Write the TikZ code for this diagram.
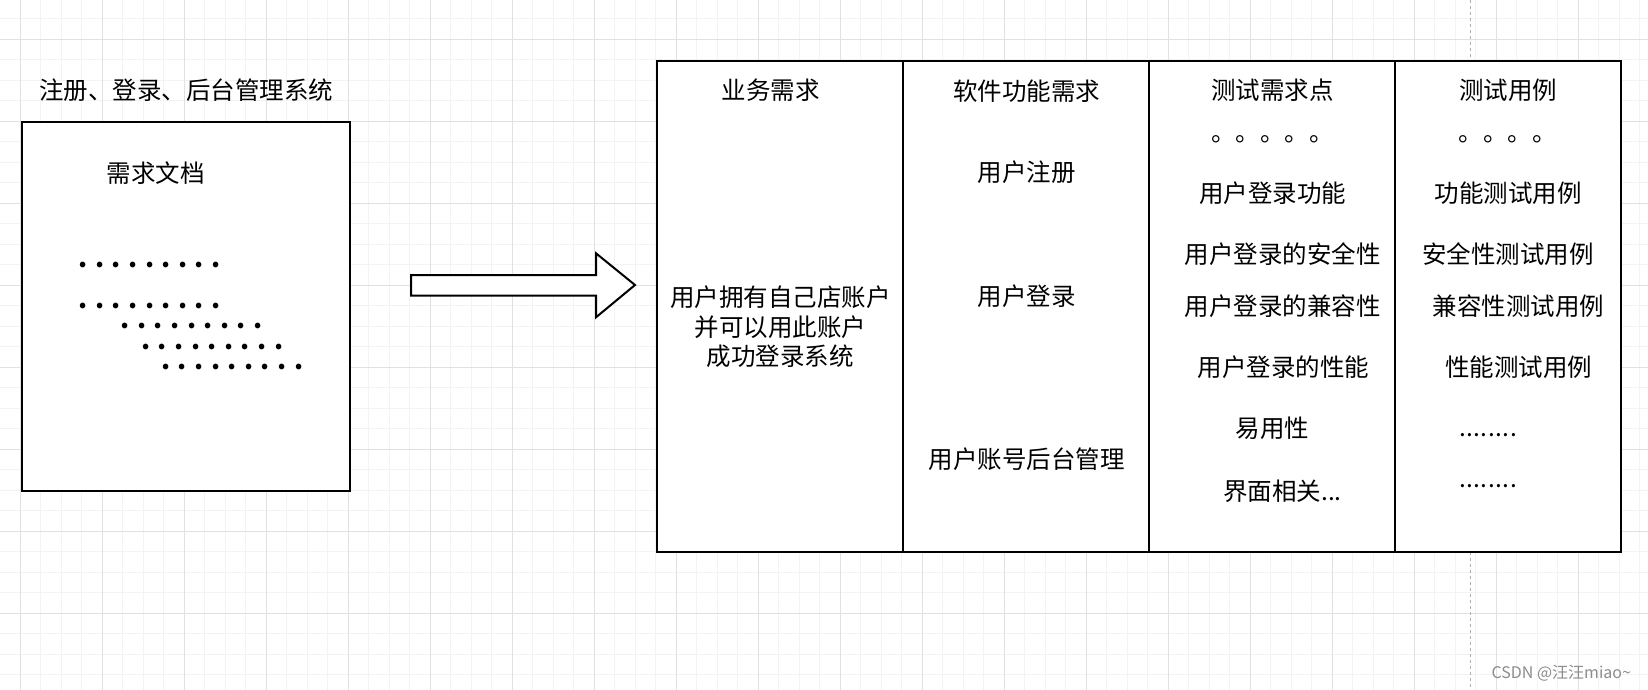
\documentclass[tikz,border=0pt]{standalone}
\usepackage{fontspec}
\newfontfamily\cjk{Noto Sans CJK SC}
\definecolor{minorgrid}{RGB}{243,243,243}
\definecolor{majorgrid}{RGB}{225,225,225}
\definecolor{pagebreak}{RGB}{175,175,175}
\definecolor{wmark}{RGB}{140,140,140}
\newcommand\dcell[1]{\makebox[#1pt]{.}}
\newcommand\ninedots{\dcell{16.6}\dcell{16.6}\dcell{16.6}\dcell{16.6}\dcell{16.6}\dcell{16.6}\dcell{16.6}\dcell{16.6}\dcell{16.6}}
\newcommand\eightdots{\dcell{7.3}\dcell{7.3}\dcell{7.3}\dcell{7.3}\dcell{7.3}\dcell{7.3}\dcell{7.3}\dcell{7.3}}
\begin{document}
\begin{tikzpicture}[x=1pt,y=-1pt,
  txt/.style={font=\cjk\fontsize{24.5}{29.2}\selectfont, inner sep=0pt, align=center, text=black},
  frame/.style={draw=black, line width=2pt, fill=white, inner sep=0pt, line join=miter},
  dotrow/.style={font=\cjk\fontsize{24.5}{29.2}\selectfont, inner sep=0pt, anchor=west, text=black},
  bolddots/.style={dotrow, font=\cjk\fontsize{26}{29.2}\selectfont\bfseries},
  minorline/.style={draw=minorgrid, line width=1pt},
  majorline/.style={draw=majorgrid, line width=1pt},
  pageline/.style={draw=pagebreak, line width=1pt, dash pattern=on 3pt off 3pt},
  wm/.style={font=\cjk\fontsize{16}{18}\selectfont, text=wmark, inner sep=0pt}]
\useasboundingbox (0,0) rectangle (1648,690);
\fill[white] (0,0) rectangle (1648,690);
% grid
\foreach \k in {0,...,80} {\pgfmathsetmacro\xx{-0.2+20.5*\k}\draw[minorline] (\xx,0) -- (\xx,690);}
\foreach \k in {0,...,33} {\pgfmathsetmacro\yy{-1.7+20.5*\k}\draw[minorline] (0,\yy) -- (1648,\yy);}
\foreach \k in {0,...,19} {\pgfmathsetmacro\xx{20.3+82*\k}\draw[majorline] (\xx,0) -- (\xx,690);}
\foreach \k in {0,...,7} {\pgfmathsetmacro\yy{39.3+82*\k}\draw[majorline] (0,\yy) -- (1648,\yy);}
\draw[pageline] (1470.3,0) -- (1470.3,690);

% left document box
\node[txt] (sys) at (186,90.7) {注册、登录、后台管理系统};
\node[frame, anchor=north west, minimum width=328.3, minimum height=369] (doc) at (20.7,121) {};
\node[txt] (doctitle) at (155.5,172.7) {需求文档};
\node[bolddots] (r1) at (74.7,264.7) {\ninedots};
\node[bolddots] (r2) at (74.7,305.7) {\ninedots};
\node[bolddots] (r3) at (116.7,326) {\ninedots};
\node[bolddots] (r4) at (137.4,346.7) {\ninedots};
\node[bolddots] (r5) at (157.4,367) {\ninedots};

% block arrow
\draw[frame] (411,275) -- (596,275) -- (596,253.3) -- (635,285) -- (596,317.3) -- (596,295.7) -- (411,295.7) -- cycle;

% table
\node[frame, anchor=north west, minimum width=246.3, minimum height=491] (c1) at (656,60) {};
\node[frame, anchor=north west, minimum width=246, minimum height=491] (c2) at (902.3,60) {};
\node[frame, anchor=north west, minimum width=246, minimum height=491] (c3) at (1148.3,60) {};
\node[frame, anchor=north west, minimum width=225.7, minimum height=491] (c4) at (1394.3,60) {};

% column 1
\node[txt] (h1) at (770.7,90.7) {业务需求};
\node[txt] (b1) at (780.3,326.8) {用户拥有自己店账户\\并可以用此账户\\成功登录系统};

% column 2
\node[txt] (h2) at (1026.7,90.7) {软件功能需求};
\node[txt] (f1) at (1026.7,172.7) {用户注册};
\node[txt] (f2) at (1026.7,296) {用户登录};
\node[txt] (f3) at (1026.7,459.3) {用户账号后台管理};

% column 3
\node[txt] (h3) at (1272.7,90.7) {测试需求点};
\node[dotrow] (o3) at (1210.8,139.3) {。。。。。};
\node[txt] (t1) at (1272.7,193.3) {用户登录功能};
\node[txt] (t2) at (1282.8,254.3) {用户登录的安全性};
\node[txt] (t3) at (1282.8,305.7) {用户登录的兼容性};
\node[txt] (t4) at (1283.3,367.3) {用户登录的性能};
\node[txt] (t5) at (1272.7,428.3) {易用性};
\node[txt] (t6) at (1282.5,491.7) {界面相关...};

% column 4
\node[txt] (h4) at (1508.3,90.7) {测试用例};
\node[dotrow] (o4) at (1458.4,139.3) {。。。。};
\node[txt] (u1) at (1508.3,193.3) {功能测试用例};
\node[txt] (u2) at (1508,254.3) {安全性测试用例};
\node[txt] (u3) at (1518.3,305.7) {兼容性测试用例};
\node[txt] (u4) at (1518.7,367.3) {性能测试用例};
\node[dotrow] (u5) at (1458.6,435) {\eightdots};
\node[dotrow] (u6) at (1458.6,486) {\eightdots};

% watermark
\node[wm] (mark) at (1561.3,673.3) {CSDN @汪汪miao\textasciitilde};
\end{tikzpicture}
\end{document}
